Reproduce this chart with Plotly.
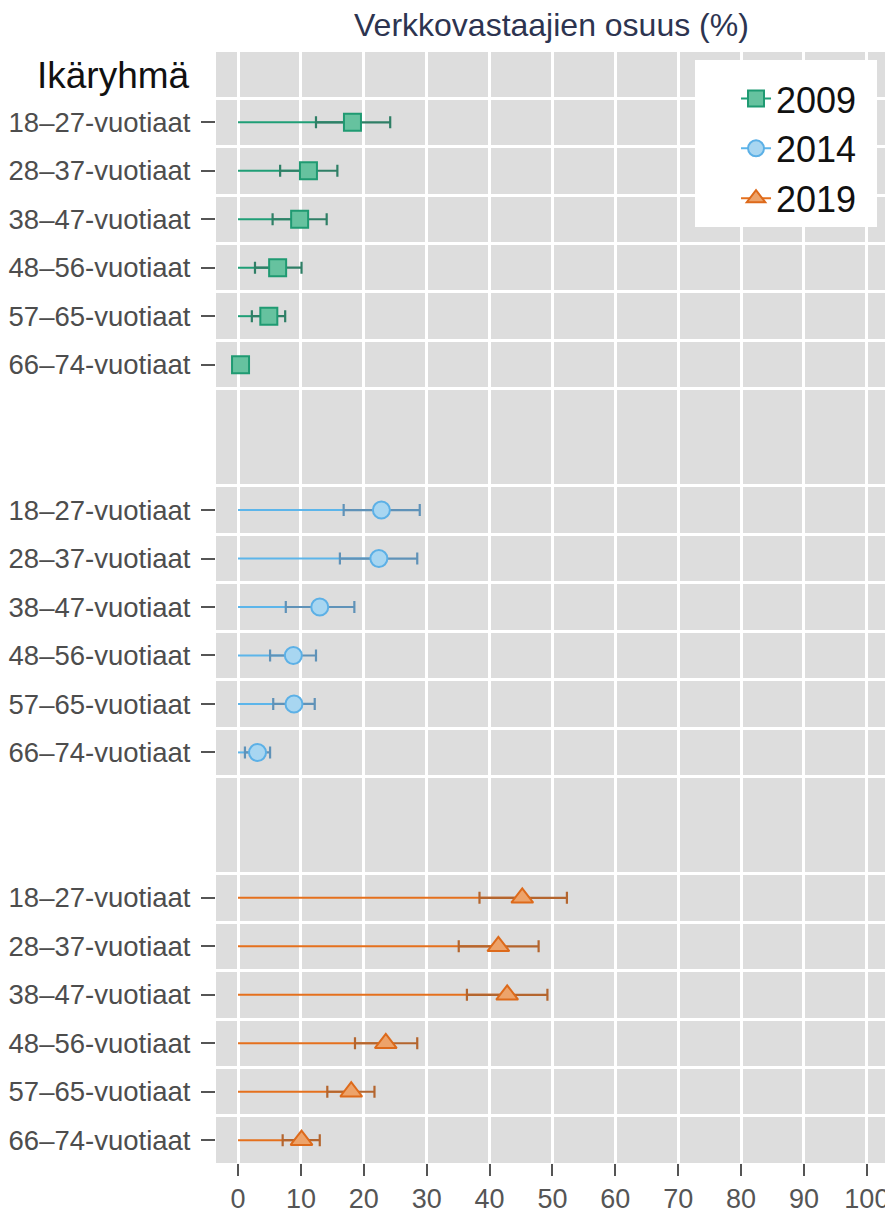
import plotly.graph_objects as go

# age groups (rows within each year block)
groups = ["18–27-vuotiaat", "28–37-vuotiaat", "38–47-vuotiaat",
          "48–56-vuotiaat", "57–65-vuotiaat", "66–74-vuotiaat"]
years = ["2009", "2014", "2019"]

# share of web respondents (%), estimate + confidence interval
est_2009 = [18.2, 11.2, 9.8, 6.3, 4.9, 0.4]
low_2009 = [12.4, 6.7, 5.5, 2.7, 2.2, 0.0]
upp_2009 = [24.2, 15.8, 14.1, 10.1, 7.5, 0.9]

est_2014 = [22.8, 22.4, 13.0, 8.8, 8.9, 3.1]
low_2014 = [16.8, 16.2, 7.6, 5.1, 5.6, 1.1]
upp_2014 = [28.9, 28.5, 18.5, 12.4, 12.2, 5.1]

est_2019 = [45.2, 41.4, 42.8, 23.5, 18.0, 10.1]
low_2019 = [38.4, 35.1, 36.4, 18.6, 14.2, 7.1]
upp_2019 = [52.3, 47.8, 49.2, 28.5, 21.7, 13.0]

x_ticks = [0, 10, 20, 30, 40, 50, 60, 70, 80, 90, 100]

series = [
    dict(year="2009", est=est_2009, low=low_2009, upp=upp_2009,
         line="#1f9e76", fill="#66c29f", edge="#1f9a72", err="#2f7f66",
         symbol="square", size=17),
    dict(year="2014", est=est_2014, low=low_2014, upp=upp_2014,
         line="#5cb5ea", fill="#a8d6f1", edge="#5cb0e6", err="#5f92b8",
         symbol="circle", size=17),
    dict(year="2019", est=est_2019, low=low_2019, upp=upp_2019,
         line="#e5701d", fill="#eda36a", edge="#dd6a1b", err="#b4652e",
         symbol="triangle-up", size=19),
]

FONT = "Liberation Sans, Arial, sans-serif"
GAP = 2  # empty rows between year blocks

fig = go.Figure()

tickvals, ticktext, bounds = [], [], []
for k, s in enumerate(series):
    pos = [k * (len(groups) + GAP) + j for j in range(len(groups))]
    tickvals += pos
    ticktext += groups
    bounds += [p - 0.5 for p in pos] + [pos[-1] + 0.5]

    # stem from 0 to the estimate
    lx, ly = [], []
    for p, e in zip(pos, s["est"]):
        lx += [0, e, None]
        ly += [p, p, None]
    fig.add_trace(go.Scatter(x=lx, y=ly, mode="lines", showlegend=False,
                             line=dict(color=s["line"], width=2),
                             hoverinfo="skip"))

    # point + confidence interval
    fig.add_trace(go.Scatter(
        x=s["est"], y=pos, mode="markers", showlegend=False, name=s["year"],
        marker=dict(symbol=s["symbol"], size=s["size"], color=s["fill"],
                    line=dict(color=s["edge"], width=2)),
        error_x=dict(type="data", symmetric=False,
                     array=[u - e for u, e in zip(s["upp"], s["est"])],
                     arrayminus=[e - l for e, l in zip(s["est"], s["low"])],
                     color=s["err"], thickness=2.2, width=6),
    ))

# legend entries
for s in series:
    fig.add_trace(go.Scatter(
        x=[None], y=[None], mode="lines+markers", name=s["year"],
        line=dict(color=s["line"], width=2),
        marker=dict(symbol=s["symbol"], size=s["size"], color=s["fill"],
                    line=dict(color=s["edge"], width=2)),
    ))

# page body adds an 8px margin, so the figure is 8px smaller on each side
fig.update_layout(
    width=885, height=1205,
    margin=dict(l=208, r=6, t=44, b=50),
    paper_bgcolor="white",
    plot_bgcolor="#dddddd",
    font=dict(family=FONT, size=27, color="#4d4d4d"),
    legend=dict(x=0.775, y=0.985, xanchor="left", yanchor="top",
                bgcolor="rgba(0,0,0,0)", borderwidth=0,
                font=dict(size=36, color="#111111"), tracegroupgap=0),
    xaxis=dict(range=[-3.5, 103.2], tickvals=x_ticks, automargin=False,
               showgrid=True, gridcolor="white", gridwidth=3,
               zeroline=False, showline=False,
               ticks="outside", ticklen=12, tickwidth=1.5, tickcolor="#555555",
               tickfont=dict(size=27, color="#555555")),
    yaxis=dict(range=[21.47, -1.45], tickvals=tickvals, ticktext=ticktext,
               automargin=False,
               showgrid=False, zeroline=False, showline=False,
               ticks="outside", ticklen=14, tickwidth=1.5, tickcolor="#555555",
               ticklabelstandoff=5,
               tickfont=dict(size=27.5, color="#4d4d4d"),
               minor=dict(tickvals=bounds, showgrid=True, gridcolor="white",
                          gridwidth=3, ticks="")),
    shapes=[
        # white legend box
        dict(type="rect", xref="paper", yref="paper", layer="above",
             x0=(695 - 216) / 671, x1=(877 - 216) / 671,
             y0=(1163 - 227) / 1111, y1=(1163 - 60) / 1111,
             fillcolor="white", line=dict(width=0)),
    ],
    annotations=[
        dict(text="Verkkovastaajien osuus (%)", xref="paper", yref="paper",
             x=0.5, y=(1163 - 25) / 1111, xanchor="center", yanchor="middle",
             showarrow=False, font=dict(size=32, color="#2d3450")),
        dict(text="Ikäryhmä", xref="paper", yref="paper",
             x=-0.036, y=0.979, xanchor="right", yanchor="middle",
             showarrow=False, font=dict(size=37, color="#111111")),
    ],
)

fig.write_html("out.html")
